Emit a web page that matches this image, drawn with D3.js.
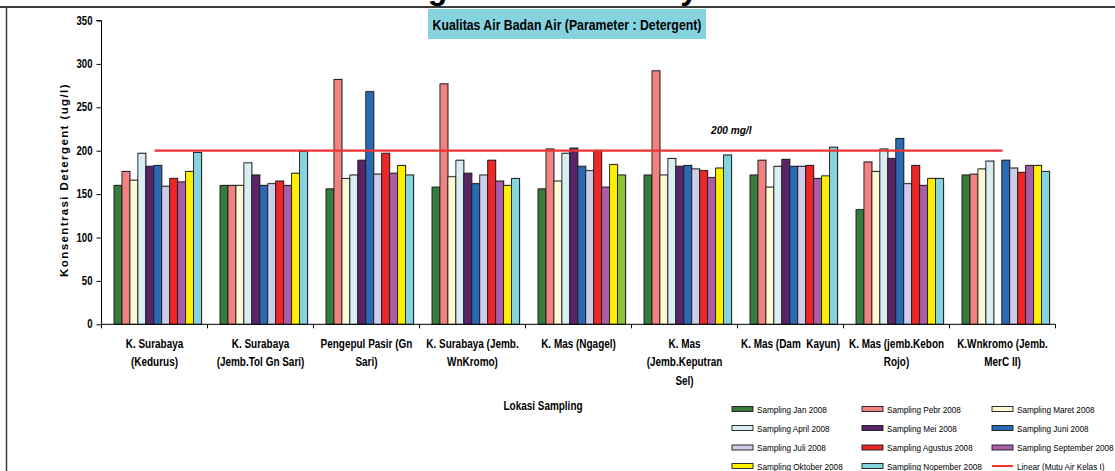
<!DOCTYPE html>
<html>
<head>
<meta charset="utf-8">
<script src="https://cdn.jsdelivr.net/npm/d3@7"></script>
<style>
  html, body { margin: 0; padding: 0; background: #fff; overflow: hidden; }
  svg { display: block; }
</style>
</head>
<body>
<svg id="chart" width="1115" height="471"></svg>
<script>
// Sampling locations (x categories), one array of label lines per location
const locations = [
  ["K. Surabaya", "(Kedurus)"],
  ["K. Surabaya", "(Jemb.Tol Gn Sari)"],
  ["Pengepul Pasir (Gn", "Sari)"],
  ["K. Surabaya (Jemb.", "WnKromo)"],
  ["K. Mas (Ngagel)"],
  ["K. Mas", "(Jemb.Keputran", "Sel)"],
  ["K. Mas (Dam  Kayun)"],
  ["K. Mas (jemb.Kebon", "Rojo)"],
  ["K.Wnkromo (Jemb.", "MerC II)"]
];

// Detergent concentration (ug/l) per monthly sampling, one value per location
const samplingJan       = [160, 160, 156, 158, 156, 172, 172, 132, 172];
const samplingPebr      = [176, 160, 282, 277, 202, 292, 189, 187, 173];
const samplingMaret     = [166, 160, 168, 170, 165, 172, 158, 176, 179];
const samplingApril     = [197, 186, 172, 189, 197, 191, 182, 202, 188];
const samplingMei       = [182, 172, 189, 174, 203, 182, 190, 191, null];
const samplingJuni      = [183, 160, 268, 162, 182, 183, 182, 214, 189];
const samplingJuli      = [159, 162, 173, 172, 177, 179, 182, 162, 180];
const samplingAgustus   = [168, 165, 197, 189, 200, 177, 183, 183, 175];
const samplingSeptember = [164, 160, 174, 165, 158, 169, 168, 160, 183];
const samplingOktober   = [176, 174, 183, 160, 184, 180, 171, 168, 183];
const samplingNopember  = [198, 199, 172, 168, 172, 195, 204, 168, 176];

const seriesNames = [
  "Sampling Jan 2008", "Sampling Pebr 2008", "Sampling Maret 2008",
  "Sampling April 2008", "Sampling Mei 2008", "Sampling Juni 2008",
  "Sampling Juli 2008", "Sampling Agustus 2008", "Sampling September 2008",
  "Sampling Oktober 2008", "Sampling Nopember 2008"
];
const seriesValues = [
  samplingJan, samplingPebr, samplingMaret, samplingApril, samplingMei, samplingJuni,
  samplingJuli, samplingAgustus, samplingSeptember, samplingOktober, samplingNopember
];

// Quality standard (Mutu Air Kelas I)
const standardValue = 200;
const standardLabel = "200 mg/l";
const standardLegend = "Linear (Mutu Air Kelas I)";

const yTicks = [0, 50, 100, 150, 200, 250, 300, 350];

// ---- styling ----
const seriesColors = [
  "#367c3c", "#f28282", "#fdf9d2", "#d9eef4", "#5c2468", "#2a6ab4",
  "#cdcde9", "#ee2626", "#a85ea8", "#fff000", "#86d3e0"
];
// single bar with its own fill: Nopember at K. Mas (Ngagel)
const pointFill = { "10-4": "#8cc43e" };

const svg = d3.select("#chart");
const fontStack = '"Liberation Sans", Arial, sans-serif';

// text squeezed horizontally (condensed look)
function condensed(parent, x, y, sx, attrs) {
  const g = parent.append("g").attr("transform", `translate(${x},${y}) scale(${sx},1)`);
  const t = g.append("text").attr("x", 0).attr("y", 0).attr("font-family", fontStack);
  Object.entries(attrs || {}).forEach(([k, v]) => t.attr(k, v));
  return t;
}

// frame of the chart area
svg.append("line").attr("x1", 0).attr("x2", 1115).attr("y1", 7).attr("y2", 7)
  .attr("stroke", "#3c3c3c").attr("stroke-width", 2);
svg.append("line").attr("x1", 6.5).attr("x2", 6.5).attr("y1", 7).attr("y2", 471)
  .attr("stroke", "#3c3c3c").attr("stroke-width", 1.5);

// page title above the frame
svg.append("text")
  .attr("x", 152).attr("y", -1)
  .attr("font-family", fontStack)
  .attr("font-weight", "bold").attr("font-size", 32)
  .attr("fill", "#000")
  .text("Konsentrasi Detergent Kali Surabaya");

// chart title box
svg.append("rect").attr("x", 428).attr("y", 9).attr("width", 278).attr("height", 30)
  .attr("fill", "#86d3e0");
condensed(svg, 567, 29.5, 0.82, { "text-anchor": "middle", "font-weight": "bold", "font-size": 15 })
  .text("Kualitas Air Badan Air (Parameter : Detergent)");

// ---- scales ----
const plotLeft = 101.5, plotRight = 1055.5, plotTop = 20.5, plotBottom = 324.3;

const y = d3.scaleLinear().domain([0, 350]).range([plotBottom, plotTop]);
const x0 = d3.scaleBand().domain(d3.range(locations.length))
  .range([plotLeft, plotRight]).paddingInner(0).paddingOuter(0);
const x1 = d3.scaleBand().domain(d3.range(seriesNames.length))
  .range([12.5, x0.bandwidth() - 6]).padding(0);

// ---- bars ----
const barData = [];
seriesValues.forEach((vals, s) => {
  vals.forEach((v, c) => { if (v != null) barData.push({ s, c, v }); });
});

const barsG = svg.append("g");
// soft shadow behind each bar
barsG.selectAll("rect.shadow").data(barData).join("rect")
  .attr("class", "shadow")
  .attr("x", d => x0(d.c) + x1(d.s) + 1)
  .attr("y", d => y(d.v) - 1)
  .attr("width", x1.bandwidth())
  .attr("height", d => plotBottom - y(d.v) + 1)
  .attr("fill", "#9a9a9a").attr("opacity", 0.55);
barsG.selectAll("rect.bar").data(barData).join("rect")
  .attr("class", "bar")
  .attr("x", d => x0(d.c) + x1(d.s))
  .attr("y", d => y(d.v))
  .attr("width", x1.bandwidth())
  .attr("height", d => plotBottom - y(d.v))
  .attr("fill", d => pointFill[d.s + "-" + d.c] || seriesColors[d.s])
  .attr("stroke", "#1a1a1a").attr("stroke-width", 0.9);

// ---- axes ----
const yAxis = d3.axisLeft(y).tickValues(yTicks).tickSize(5).tickFormat("");
const yG = svg.append("g").attr("transform", `translate(${plotLeft},0)`).call(yAxis);
yG.select(".domain").attr("stroke", "#000").attr("d", `M-5,${plotTop}H0V${plotBottom}`);
yG.selectAll(".tick line").attr("stroke", "#000");
yTicks.forEach(v => {
  condensed(svg, plotLeft - 9, y(v) + 4, 0.8,
    { "text-anchor": "end", "font-weight": "bold", "font-size": 12 }).text(d3.format("d")(v));
});

const xBounds = d3.range(locations.length + 1).map(i =>
  i < locations.length ? x0(i) : x0(i - 1) + x0.bandwidth());
const xG = svg.append("g");
xG.append("line").attr("x1", plotLeft).attr("x2", plotRight)
  .attr("y1", plotBottom).attr("y2", plotBottom).attr("stroke", "#000");
xG.selectAll("line.tk").data(xBounds).join("line").attr("class", "tk")
  .attr("x1", d => d).attr("x2", d => d)
  .attr("y1", plotBottom).attr("y2", plotBottom + 4).attr("stroke", "#000");

locations.forEach((lines, i) => {
  const t = condensed(svg, x0(i) + x0.bandwidth() / 2, 347.5, 0.83,
    { "text-anchor": "middle", "font-weight": "bold", "font-size": 12 });
  lines.forEach((ln, k) => {
    t.append("tspan").attr("x", 0).attr("dy", k === 0 ? 0 : 19)
      .attr("xml:space", "preserve").text(ln);
  });
});

// axis titles
svg.append("text")
  .attr("transform", "translate(68,180) rotate(-90)")
  .attr("text-anchor", "middle")
  .attr("font-family", fontStack).attr("font-weight", "bold").attr("font-size", 11.5)
  .attr("letter-spacing", 1.4)
  .text("Konsentrasi Detergent (ug/l)");
condensed(svg, 543, 410, 0.83, { "text-anchor": "middle", "font-weight": "bold", "font-size": 12 })
  .text("Lokasi Sampling");

// ---- standard line (linear trend at 200) ----
const firstCenter = x0(0) + x0.bandwidth() / 2;
const lastCenter = x0(locations.length - 1) + x0.bandwidth() / 2;
svg.append("line")
  .attr("x1", firstCenter).attr("x2", lastCenter)
  .attr("y1", y(standardValue)).attr("y2", y(standardValue))
  .attr("stroke", "#ee3333").attr("stroke-width", 2.2);
condensed(svg, 711, 134, 0.88, { "font-weight": "bold", "font-style": "italic", "font-size": 11.5 })
  .text(standardLabel);

// ---- legend ----
const legendItems = seriesNames.map((n, i) => ({ name: n, color: seriesColors[i], type: "bar" }))
  .concat([{ name: standardLegend, color: "#ee3333", type: "line" }]);
const colX = [732, 862, 992];
const rowY = [409, 428, 447.5, 466];
const legG = svg.append("g");
legendItems.forEach((d, i) => {
  const cx = colX[i % 3], cy = rowY[Math.floor(i / 3)];
  if (d.type === "bar") {
    legG.append("rect").attr("x", cx).attr("y", cy - 2.5).attr("width", 21).attr("height", 5)
      .attr("fill", d.color).attr("stroke", "#1a1a1a").attr("stroke-width", 0.9);
  } else {
    legG.append("line").attr("x1", cx).attr("x2", cx + 21).attr("y1", cy).attr("y2", cy)
      .attr("stroke", d.color).attr("stroke-width", 2);
  }
  condensed(legG, cx + 25, cy + 3.5, 0.86, { "font-size": 9.5 }).text(d.name);
});
</script>
</body>
</html>
